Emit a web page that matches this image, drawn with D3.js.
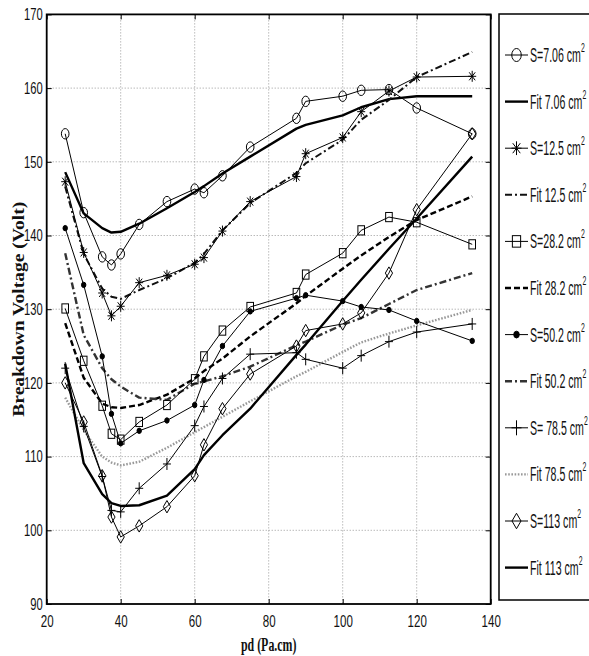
<!DOCTYPE html>
<html><head><meta charset="utf-8">
<script src="https://cdn.jsdelivr.net/npm/d3@7"></script>
<style>body{margin:0;background:#fff}</style>
</head><body><svg id="c" width="589" height="656"></svg>
<script>
const pd = [25,30,35,37.5,40,45,52.5,60,62.5,67.5,75,87.5,90,100,105,112.5,120,135];
const s706   = [153.8,143.1,137.1,136.0,137.5,141.5,144.6,146.3,145.8,148.1,152.0,155.9,158.2,158.9,159.7,159.8,157.3,153.8];
const fit706 = [148.6,143.0,141.0,140.4,140.5,141.6,143.7,145.9,146.7,148.4,150.7,154.5,155.0,156.3,157.4,158.5,158.9,158.9];
const s125   = [147.3,137.7,132.2,129.1,130.4,133.6,134.6,136.1,137.0,140.6,144.6,148.0,151.1,153.3,156.8,159.6,161.5,161.6];
const fit125 = [146.6,137.5,132.8,131.7,131.4,132.6,134.2,136.3,137.5,140.7,144.4,148.5,149.8,153.0,155.7,158.4,161.5,164.9];
const s282   = [130.1,123.0,116.9,113.1,112.3,114.7,117.0,120.5,123.6,127.1,130.3,132.2,134.7,137.6,140.7,142.5,141.8,138.8];
const fit282 = [128.1,120.7,117.2,116.7,116.6,117.0,118.4,120.6,121.6,123.3,126.3,130.8,131.8,135.5,137.3,139.8,142.1,145.3];
const s502   = [141.0,133.3,123.6,115.8,111.8,113.5,114.9,117.0,120.4,125.0,129.7,131.5,131.9,131.1,130.3,129.9,128.4,125.7];
const fit502 = [137.6,126.5,122.0,120.5,119.5,118.0,117.7,119.9,120.2,120.9,122.2,125.1,125.6,127.9,128.8,130.7,132.6,134.9];
const s785   = [122.0,114.1,107.3,102.7,102.5,105.7,109.0,114.2,116.8,120.6,123.9,124.1,123.2,122.0,123.7,125.6,126.9,128.0];
const fit785 = [118.0,113.6,110.0,109.2,108.8,109.3,111.2,113.3,114.0,115.4,117.5,120.9,121.5,124.2,125.5,126.7,127.8,129.9];
const s113   = [120.0,114.7,107.4,101.8,99.1,100.6,103.2,107.4,111.6,116.5,121.2,125.0,127.1,128.0,129.5,134.9,143.5,153.8];
const fit113 = [122.6,109.1,104.9,103.7,103.3,103.4,104.7,108.3,110.2,112.9,116.5,123.8,125.2,131.1,134.0,138.2,142.3,150.7];
const xTicks = [20,40,60,80,100,120,140];
const yTicks = [90,100,110,120,130,140,150,160,170];
const legendLabels = ["S=7.06 cm","Fit 7.06 cm","S=12.5 cm","Fit 12.5 cm","S=28.2 cm","Fit 28.2 cm",
                      "S=50.2 cm","Fit 50.2 cm","S= 78.5 cm","Fit 78.5 cm","S=113 cm","Fit 113 cm"];
const xLabel = "pd (Pa.cm)";
const yLabel = "Breakdown Voltage (Volt)";

const series = [
  {v:s706, marker:"circle"}, {v:fit706, fit:true, w:2.4, dash:null, color:"#000"},
  {v:s125, marker:"star"},   {v:fit125, fit:true, w:2.0, dash:"7,3,2,3", color:"#111"},
  {v:s282, marker:"square"}, {v:fit282, fit:true, w:2.4, dash:"6,3", color:"#000"},
  {v:s502, marker:"dot"},    {v:fit502, fit:true, w:2.4, dash:"7,3,2,3", color:"#333"},
  {v:s785, marker:"plus"},   {v:fit785, fit:true, w:2.4, dash:"1.6,1.6", color:"#999"},
  {v:s113, marker:"diamond"},{v:fit113, fit:true, w:2.4, dash:null, color:"#000"}
];

const svg = d3.select('#c');
svg.append('rect').attr('width',589).attr('height',656).attr('fill','#fff');
const L=46.7,R=490.7,T=14.4,B=604;
const x = d3.scaleLinear().domain([20,140]).range([L,R]);
const y = d3.scaleLinear().domain([90,170]).range([B,T]);

// grid
const grid = svg.append('g').attr('stroke','#999').attr('stroke-width',1).attr('stroke-dasharray','1,2');
xTicks.slice(1,-1).forEach(t=>grid.append('line').attr('x1',x(t)).attr('x2',x(t)).attr('y1',T).attr('y2',B));
yTicks.slice(1,-1).forEach(t=>grid.append('line').attr('x1',L).attr('x2',R).attr('y1',y(t)).attr('y2',y(t)));

// axes
const SX = 0.68;
const gx = svg.append('g').attr('transform',`translate(0,${B})`)
  .call(d3.axisBottom(x).tickValues(xTicks).tickSizeInner(-5).tickSizeOuter(0).tickPadding(11));
const gy = svg.append('g').attr('transform',`translate(${L},0)`)
  .call(d3.axisLeft(y).tickValues(yTicks).tickSizeInner(-5).tickSizeOuter(0).tickPadding(4));
svg.append('g').attr('transform',`translate(0,${T})`)
  .call(d3.axisTop(x).tickValues(xTicks).tickSizeInner(-5).tickSizeOuter(0).tickFormat(''));
svg.append('g').attr('transform',`translate(${R},0)`)
  .call(d3.axisRight(y).tickValues(yTicks).tickSizeInner(-5).tickSizeOuter(0).tickFormat(''));
svg.selectAll('.domain').remove();
svg.selectAll('.tick line').attr('stroke','#000').attr('stroke-width',1);
gx.selectAll('text').attr('font-family','"Liberation Sans", Arial, sans-serif').attr('font-size',17)
  .attr('fill','#111').attr('transform',`scale(${SX},1)`);
gy.selectAll('text').attr('font-family','"Liberation Sans", Arial, sans-serif').attr('font-size',16.5)
  .attr('fill','#111').attr('x',-4/SX).attr('transform',`scale(${SX},1)`);

// frame
svg.append('rect').attr('x',L).attr('y',T).attr('width',R-L).attr('height',B-T)
  .attr('fill','none').attr('stroke','#000').attr('stroke-width',1.8);

// axis labels
svg.append('text').attr('transform',`translate(${(L+R)/2},651) scale(0.66,1)`)
  .attr('text-anchor','middle').attr('font-family','"Liberation Serif", "Times New Roman", serif')
  .attr('font-weight','bold').attr('font-size',18).attr('fill','#111').text(xLabel);
svg.append('text').attr('transform',`translate(24,${(T+B)/2}) rotate(-90)`)
  .attr('text-anchor','middle').attr('font-family','"Liberation Serif", "Times New Roman", serif')
  .attr('font-weight','bold').attr('font-size',17).attr('fill','#111')
  .attr('textLength',215).attr('lengthAdjust','spacingAndGlyphs').text(yLabel);

// markers
function drawMarker(g, type, cx, cy, k){
  k = k||1;
  const m = g.append('g').attr('transform',`translate(${cx},${cy}) scale(${k})`)
    .attr('stroke','#000').attr('stroke-width',1/k).attr('fill','none');
  if(type==='circle') m.append('ellipse').attr('rx',3.8).attr('ry',5.2);
  else if(type==='square') m.append('rect').attr('x',-3.3).attr('y',-4.6).attr('width',6.6).attr('height',9.2);
  else if(type==='diamond') m.append('path').attr('d','M0,-6.2L3.6,0L0,6.2L-3.6,0Z');
  else if(type==='dot') m.append('ellipse').attr('rx',2.2).attr('ry',2.7).attr('fill','#000');
  else if(type==='plus') m.append('path').attr('d','M-4,0H4M0,-6V6');
  else if(type==='star') m.append('path').attr('d','M-4,0H4M0,-5.5V5.5M-3,-4L3,4M-3,4L3,-4');
}

const line = d3.line().x((d,i)=>x(pd[i])).y(d=>y(d));
const plot = svg.append('g');
series.forEach(s=>{
  if(!s.fit) return;
  plot.append('path').attr('d',line(s.v)).attr('fill','none').attr('stroke',s.color)
    .attr('stroke-width',s.w).attr('stroke-dasharray',s.dash).attr('stroke-linejoin','round');
});
series.forEach(s=>{
  if(s.fit) return;
  plot.append('path').attr('d',line(s.v)).attr('fill','none').attr('stroke','#000').attr('stroke-width',1);
  s.v.forEach((d,i)=>drawMarker(plot, s.marker, x(pd[i]), y(d)));
});

// legend
const lg = svg.append('g');
lg.append('rect').attr('x',499).attr('y',14).attr('width',120).attr('height',586)
  .attr('fill','#fff').attr('stroke','#000').attr('stroke-width',1.5);
legendLabels.forEach((lab,i)=>{
  const ry = 55 + i*46.6;
  const s = series[i];
  const ln = lg.append('line').attr('x1',505).attr('x2',528).attr('y1',ry).attr('y2',ry);
  if(s.fit) ln.attr('stroke',s.color).attr('stroke-width',s.w).attr('stroke-dasharray',s.dash);
  else { ln.attr('stroke','#000').attr('stroke-width',1); drawMarker(lg, s.marker, 516.5, ry, 1.25); }
  const t = lg.append('text').attr('transform',`translate(530,${ry+7}) scale(0.53,1)`)
    .attr('font-family','"Liberation Sans", Arial, sans-serif').attr('font-size',20).attr('fill','#111');
  t.append('tspan').text(lab);
  t.append('tspan').attr('font-size',13).attr('dy',-10).text('2');
});
</script></body></html>
